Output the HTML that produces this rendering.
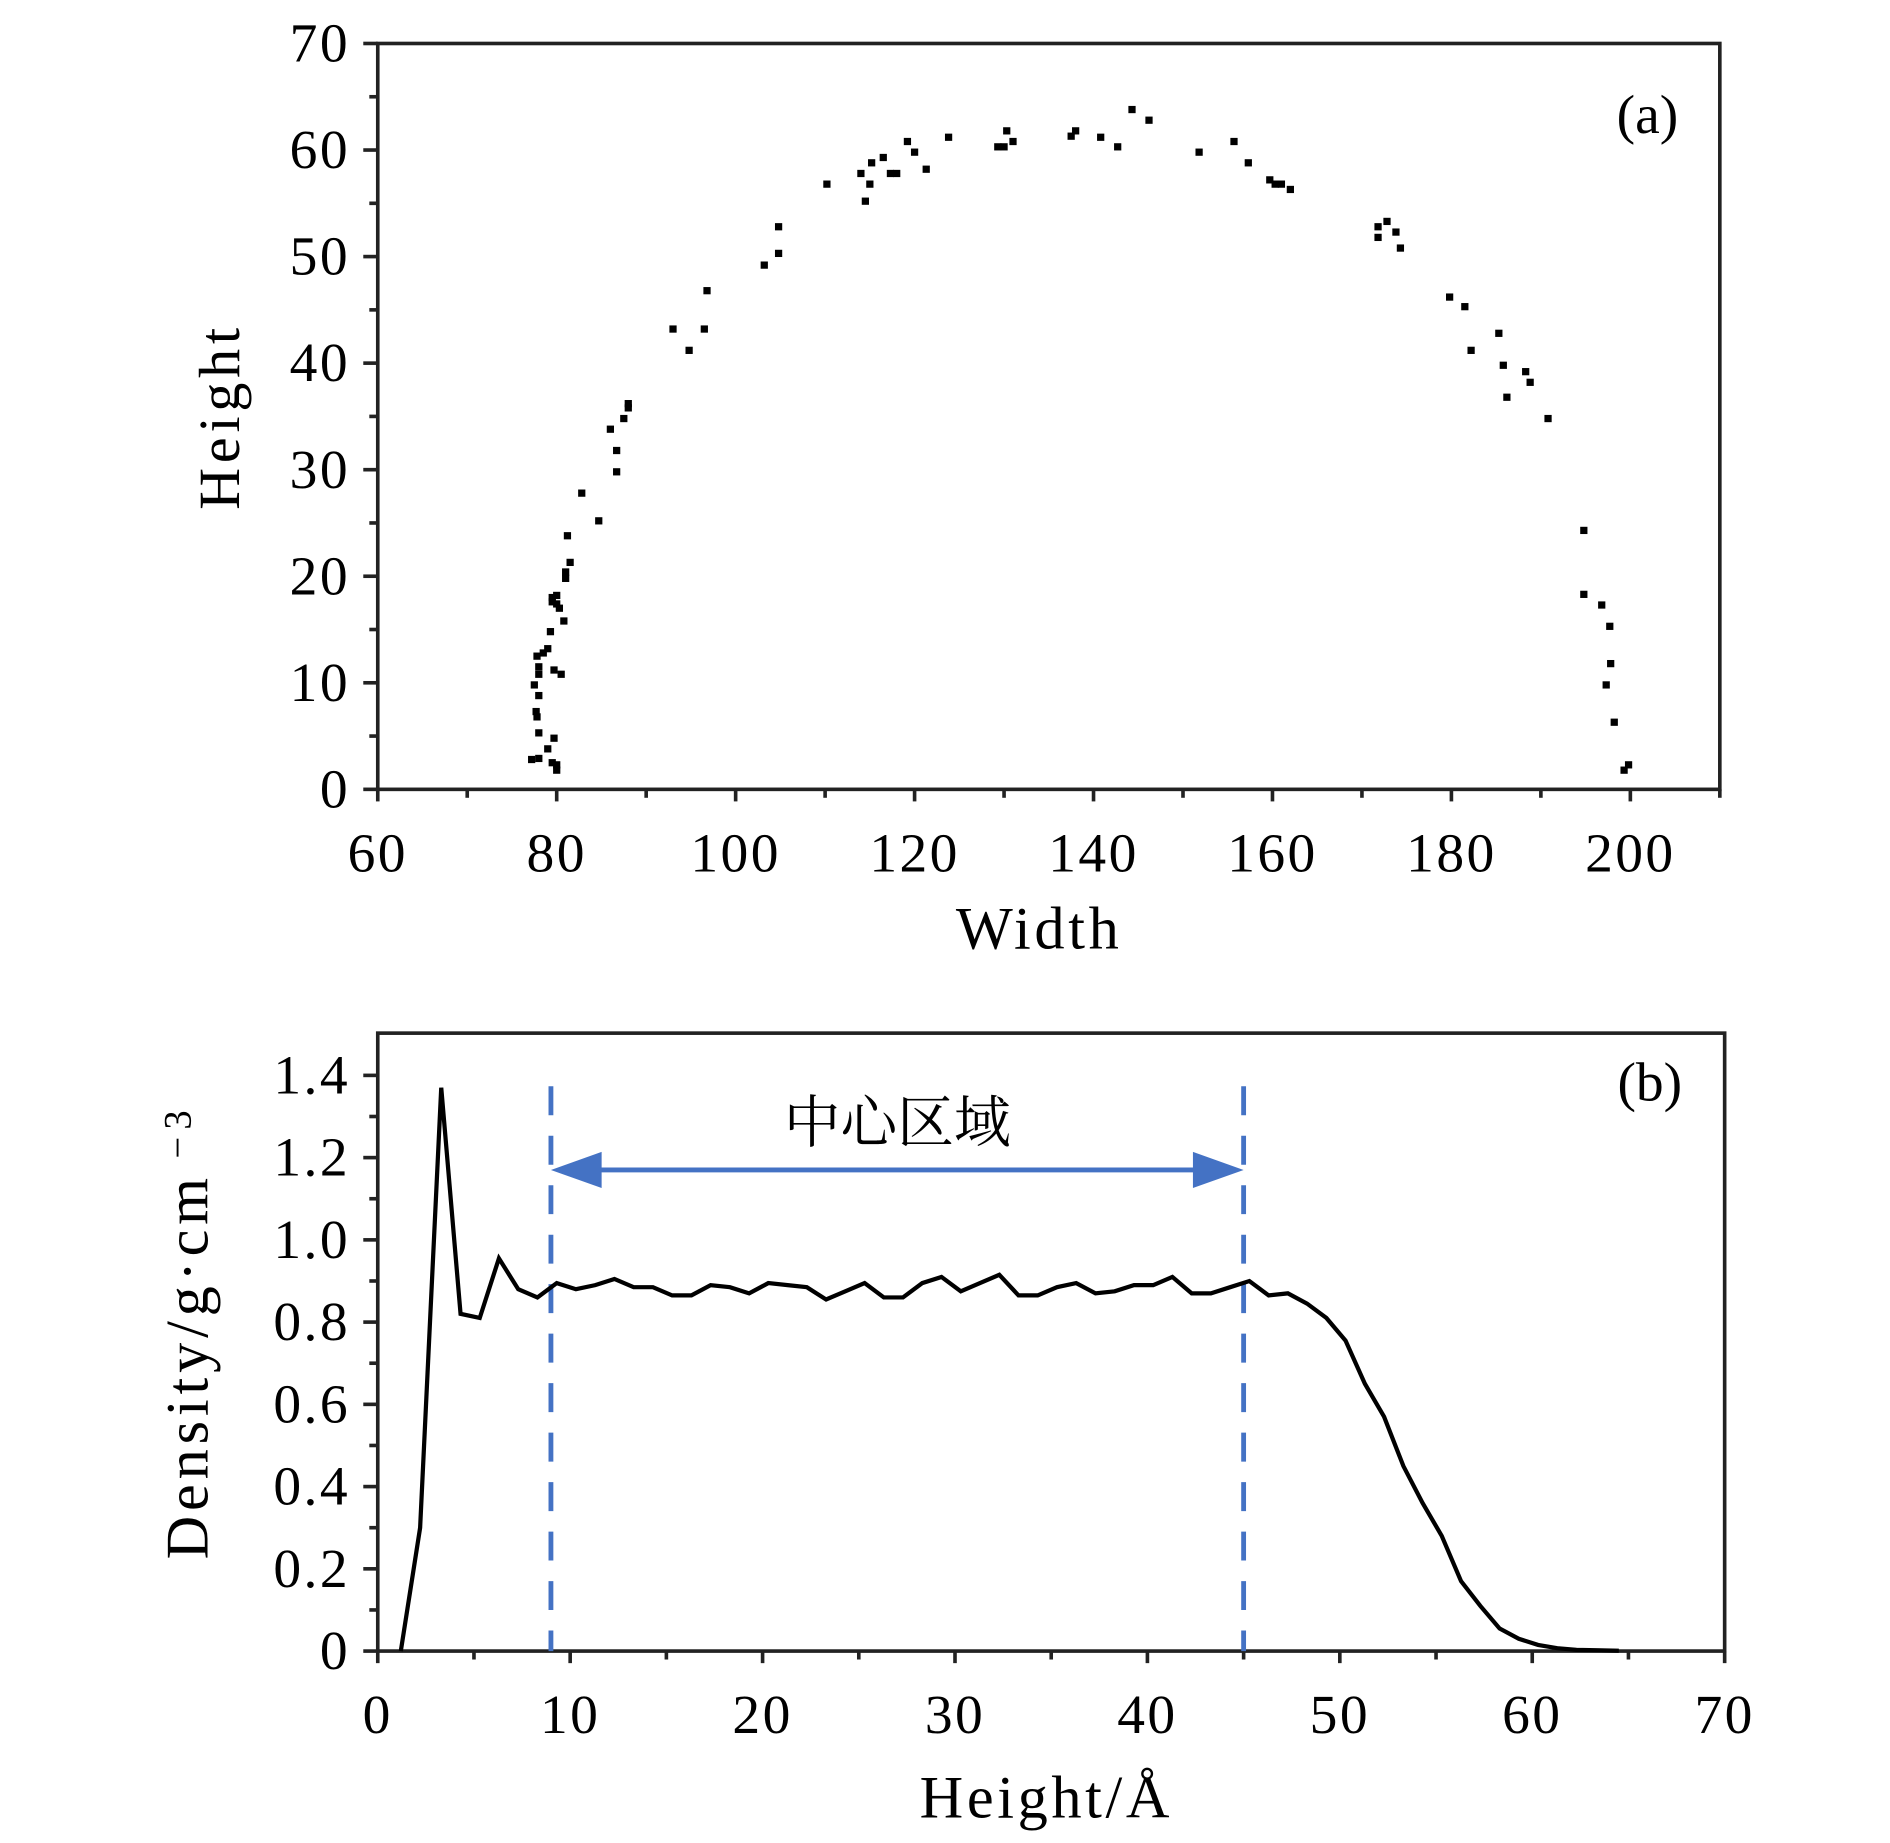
<!DOCTYPE html>
<html><head><meta charset="utf-8">
<style>
html,body{margin:0;padding:0;background:#fff;}
svg{display:block;}
text{font-family:"Liberation Serif","Noto Serif CJK SC",serif;fill:#000;}
</style></head>
<body>
<svg id="chart" width="1890" height="1843" viewBox="0 0 1566 1527" xmlns="http://www.w3.org/2000/svg">
<g id="pa"></g>
<g id="pb"></g>
</svg>
<script>
const scatterX=[77.2,78,79,79.5,80,80,79.7,78,77.8,77.7,78,77.5,78,78,77.8,78.5,79,79.7,80.5,79.3,80.8,80.3,79.5,79.5,80,80,81,81,81.5,81.2,82.8,84.7,86.7,86.7,86,87.5,88,88,93,94.8,96.5,96.8,103.2,104.8,104.8,110.2,114,114.5,115,115.2,116.5,117.3,118,119.2,120,121.3,123.8,129.3,130,130.3,131,137.5,138,140.8,142.7,144.3,146.2,151.8,155.7,157.3,159.7,160.3,161,162,171.8,171.8,172.8,173.8,174.3,179.8,181.5,182.2,185.3,185.8,186.2,188.3,188.8,190.8,194.8,194.8,196.8,197.7,197.8,197.3,198.2,199.3,199.8];
const scatterY=[2.8,2.9,3.8,2.5,1.8,2.3,4.8,5.3,6.8,7.3,8.8,9.8,10.8,11.5,12.5,12.8,13.2,11.2,10.8,14.8,15.8,17,17.6,18,18.2,17.4,19.8,20.4,21.3,23.8,27.8,25.2,29.8,31.8,33.8,34.8,35.8,36.2,43.2,41.2,43.2,46.8,49.2,50.3,52.8,56.8,57.8,55.2,56.8,58.8,59.3,57.8,57.8,60.8,59.8,58.2,61.2,60.3,60.3,61.8,60.8,61.3,61.8,61.2,60.3,63.8,62.8,59.8,60.8,58.8,57.2,56.8,56.8,56.3,52.8,51.8,53.3,52.3,50.8,46.2,45.3,41.2,42.8,39.8,36.8,39.2,38.2,34.8,24.3,18.3,17.3,15.3,11.8,9.8,6.3,1.8,2.3];
const aXTicks=[60,80,100,120,140,160,180,200];
const aYTicks=[0,10,20,30,40,50,60,70];
const densX=[1.2,2.2,3.3,4.3,5.3,6.3,7.3,8.3,9.3,10.3,11.3,12.3,13.3,14.3,15.3,16.3,17.3,18.3,19.3,20.3,21.3,22.3,23.3,24.3,25.3,26.3,27.3,28.3,29.3,30.3,31.3,32.3,33.3,34.3,35.3,36.3,37.3,38.3,39.3,40.3,41.3,42.3,43.3,44.3,45.3,46.3,47.3,48.3,49.3,50.3,51.3,52.3,53.3,54.3,55.3,56.3,57.3,58.3,59.3,60.3,61.3,62.3,63.3,64.5];
const densY=[0,0.3,1.37,0.82,0.81,0.955,0.88,0.86,0.895,0.88,0.89,0.905,0.885,0.885,0.865,0.865,0.89,0.885,0.87,0.895,0.89,0.885,0.855,0.875,0.895,0.86,0.86,0.895,0.91,0.875,0.895,0.915,0.865,0.865,0.885,0.895,0.87,0.875,0.89,0.89,0.91,0.87,0.87,0.885,0.9,0.865,0.87,0.845,0.81,0.755,0.65,0.57,0.45,0.36,0.28,0.17,0.11,0.055,0.03,0.015,0.007,0.003,0.002,0.001];
const bXTicks=[0,10,20,30,40,50,60,70];
const bYTicks=[0,0.2,0.4,0.6,0.8,1.0,1.2,1.4];
const bYLabels=["0","0.2","0.4","0.6","0.8","1.0","1.2","1.4"];
const regionBounds=[9,45];

const NS="http://www.w3.org/2000/svg";
function mk(parent,tag,attrs,txt){const e=document.createElementNS(NS,tag);for(const k in attrs)e.setAttribute(k,attrs[k]);if(txt!==undefined)e.textContent=txt;parent.appendChild(e);return e;}
const TF=46, TLS=2;

// Panel A
const pa=document.getElementById('pa');
const AR=1425;
const ax=v=>313+(v-60)*(AR-313)/150;
const ay=v=>654-(v)*(654-36)/70;
let f=mk(pa,'rect',{x:313,y:36,width:AR-313,height:618,fill:'none',stroke:'#222',"stroke-width":3});

for(let v=60;v<=210;v+=10){const major=(v%20===0)&&v<=200;const t=mk(pa,'line',{x1:ax(v),x2:ax(v),y1:654,y2:654+(major?10:7),stroke:'#222',"stroke-width":3});}
for(let v=0;v<=70;v+=5){const major=v%10===0;const t=mk(pa,'line',{x1:313,x2:313-(major?12:7),y1:ay(v),y2:ay(v),stroke:'#222',"stroke-width":3});}
aXTicks.forEach(v=>{const t=mk(pa,'text',{x:ax(v),y:722,"font-size":TF,"letter-spacing":TLS,"text-anchor":'middle'},String(v));});
aYTicks.forEach(v=>{const t=mk(pa,'text',{x:290,y:ay(v)+15,"font-size":TF,"letter-spacing":TLS,"text-anchor":'end'},String(v));});
let t=mk(pa,'text',{x:861,y:786,"font-size":50,"letter-spacing":3,"text-anchor":'middle'},'Width');
t=mk(pa,'text',{x:0,y:0,"font-size":48,"letter-spacing":4,"text-anchor":'middle',transform:'translate(198,345) rotate(-90)'},'Height');
t=mk(pa,'text',{x:1365,y:110,"font-size":46,"text-anchor":'middle'},'(a)');
scatterX.forEach((x,i)=>{const p=mk(pa,'rect',{x:ax(x)-3,y:ay(scatterY[i])-3,width:6,height:6,fill:'#000'});});

// Panel B
const pb=document.getElementById('pb');
const bx=v=>313+v*(1429-313)/70;
const by=v=>1368-v*(1368-891)/1.4;
f=mk(pb,'rect',{x:313,y:856,width:1429-313,height:1368-856,fill:'none',stroke:'#222',"stroke-width":3});

for(let v=0;v<=70;v+=5){const major=v%10===0;const l=mk(pb,'line',{x1:bx(v),x2:bx(v),y1:1368,y2:1368+(major?10:7),stroke:'#222',"stroke-width":3});}
for(let k=0;k<=14;k++){const v=k*0.1;const major=k%2===0;const l=mk(pb,'line',{x1:313,x2:313-(major?12:7),y1:by(v),y2:by(v),stroke:'#222',"stroke-width":3});}
bXTicks.forEach(v=>{const e=mk(pb,'text',{x:bx(v),y:1436,"font-size":TF,"letter-spacing":TLS,"text-anchor":'middle'},String(v));});
bYTicks.forEach((v,i)=>{const e=mk(pb,'text',{x:290,y:by(v)+15,"font-size":TF,"letter-spacing":TLS,"text-anchor":'end'},bYLabels[i]);});
t=mk(pb,'text',{x:867,y:1506,"font-size":50,"letter-spacing":3,"text-anchor":'middle'},'Height/Å');
t=mk(pb,'text',{x:0,y:0,"font-size":50,"letter-spacing":4,"text-anchor":'middle',transform:'translate(172,1132) rotate(-90)'},'Density/g·cm');
t=mk(pb,'text',{x:0,y:0,"font-size":32,"letter-spacing":6,"text-anchor":'middle',transform:'translate(158,937) rotate(-90)'},'−3');
t=mk(pb,'text',{x:1367,y:912,"font-size":46,"text-anchor":'middle'},'(b)');
regionBounds.forEach(v=>{const l=mk(pb,'line',{x1:bx(v),x2:bx(v),y1:900,y2:1368,stroke:'#4472c4',"stroke-width":4,"stroke-dasharray":'24,17'});});
const ayv=by(1.17);
let a=mk(pb,'line',{x1:bx(regionBounds[0])+30,x2:bx(regionBounds[1])-30,y1:ayv,y2:ayv,stroke:'#4472c4',"stroke-width":4});
const x0=bx(regionBounds[0]),x1=bx(regionBounds[1]);
a=mk(pb,'polygon',{points:`${x0},${ayv} ${x0+42},${ayv-15} ${x0+42},${ayv+15}`,fill:'#4472c4'});
a=mk(pb,'polygon',{points:`${x1},${ayv} ${x1-42},${ayv-15} ${x1-42},${ayv+15}`,fill:'#4472c4'});
t=mk(pb,'text',{x:(x0+x1)/2,y:946,"font-size":47,"text-anchor":'middle',style:'font-family:"Noto Serif CJK SC",serif'},'中心区域');
const pts=densX.map((x,i)=>bx(x).toFixed(1)+','+by(densY[i]).toFixed(1)).join(' ');
const pl=mk(pb,'polyline',{points:pts,fill:'none',stroke:'#000',"stroke-width":3.5,"stroke-linejoin":'miter'});

</script>
</body></html>
